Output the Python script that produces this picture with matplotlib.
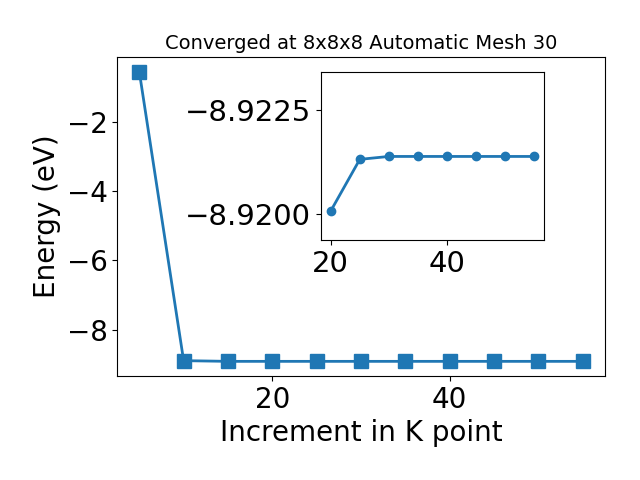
import numpy as np
import matplotlib
matplotlib.use('Agg')
import matplotlib.pyplot as plt

# k-point convergence data
kpoints = [5, 10, 15, 20, 25, 30, 35, 40, 45, 50, 55]
energy = [-0.55, -8.90, -8.92, -8.92, -8.92, -8.92,
          -8.92, -8.92, -8.92, -8.92, -8.92]

# zoomed-in values for the inset
inset_k = [20, 25, 30, 35, 40, 45, 50, 55]
inset_e = [-8.92008, -8.92132, -8.92139, -8.92139, -8.92139,
           -8.92139, -8.92139, -8.92139]

main_xticks = [20, 40]
main_yticks = [-8, -6, -4, -2]
inset_xticks = [20, 40]
inset_yticks = [-8.9225, -8.9200]
inset_ylabels = ['\u22128.9225', '\u22128.9200']

fig = plt.figure(figsize=(6.4, 4.8), dpi=100)
ax = fig.add_axes([0.183, 0.217, 0.762, 0.664])
ax.plot(kpoints, energy, marker='s', markersize=10, linewidth=2, color='#1f77b4')
ax.set_xticks(main_xticks)
ax.set_yticks(main_yticks)
ax.tick_params(labelsize=20)
ax.set_xlabel('Increment in K point', fontsize=20)
ax.set_ylabel('Energy (eV)', fontsize=20)
ax.set_title('Converged at 8x8x8 Automatic Mesh 30', fontsize=14)

# zoomed inset
axin = fig.add_axes([0.501, 0.5, 0.349, 0.349])
axin.plot(inset_k, inset_e, marker='o', markersize=6, linewidth=2, color='#1f77b4')
axin.set_ylim(-8.91938, -8.92341)
axin.set_xticks(inset_xticks)
axin.set_yticks(inset_yticks)
axin.set_yticklabels(inset_ylabels)
axin.tick_params(labelsize=21)

fig.savefig('out.png')
